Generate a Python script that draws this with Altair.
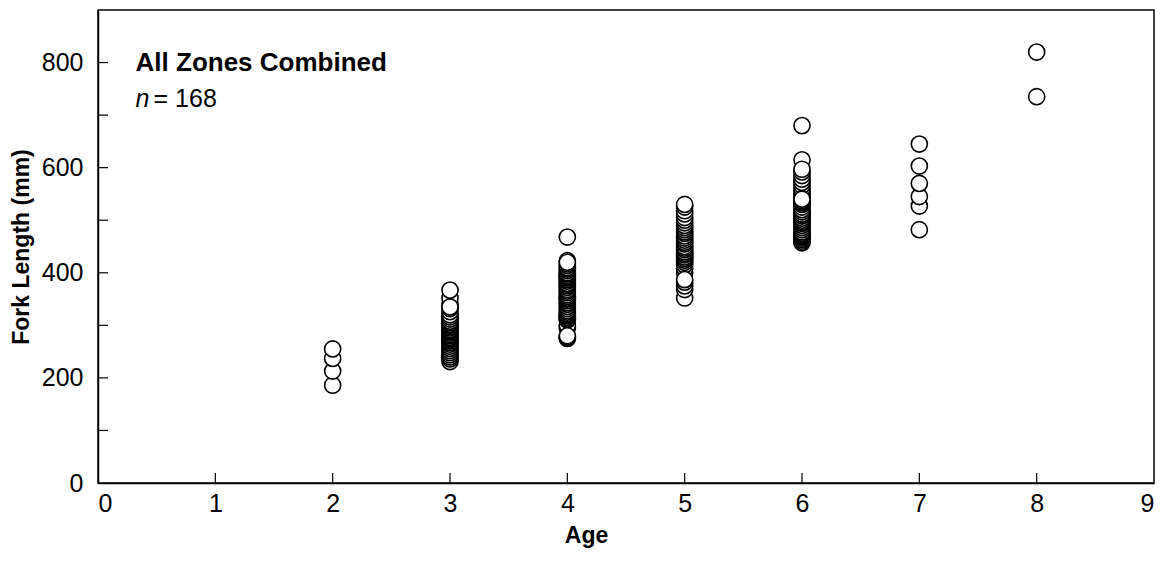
import altair as alt
import pandas as pd

age2 = [186, 213, 237, 255]
age3 = [231, 236, 240, 244, 248, 252, 256, 260, 264, 267, 270, 272, 275, 277, 280,
        282, 285, 288, 290, 292, 295, 297, 300, 302, 305, 308, 312, 316, 320, 326,
        332, 340, 352, 367, 335]
age4 = [275, 276, 278, 295, 300, 310, 312, 315, 318, 320, 322, 325, 328, 332, 336,
        340, 343, 347, 350, 352, 355, 358, 362, 365, 368, 372, 375, 378, 380, 384,
        387, 390, 392, 395, 398, 400, 404, 407, 410, 414, 417, 423, 468, 280, 420]
age5 = [352, 368, 375, 382, 400, 408, 415, 420, 424, 427, 430, 434, 437, 440, 444,
        447, 450, 455, 458, 462, 466, 470, 475, 478, 482, 486, 490, 495, 500, 505,
        512, 518, 525, 530, 387]
age6 = [457, 460, 463, 466, 469, 470, 472, 475, 478, 482, 486, 490, 494, 495, 497,
        500, 504, 508, 510, 512, 516, 520, 525, 530, 533, 535, 537, 541, 546, 550,
        555, 560, 566, 572, 578, 585, 592, 615, 680, 540, 597]
age7 = [482, 527, 545, 570, 603, 645]
age8 = [735, 820]

groups = {2: age2, 3: age3, 4: age4, 5: age5, 6: age6, 7: age7, 8: age8}
x_labels = [0, 1, 2, 3, 4, 5, 6, 7, 8, 9]
y_labels = [0, 200, 400, 600, 800]
x_inner_ticks = [1, 2, 3, 4, 5, 6, 7, 8]
y_inner_ticks = [100, 200, 300, 400, 500, 600, 700, 800]

rows = []
for a, vals in groups.items():
    for v in vals:
        rows.append({"Age": a, "FL": v})
df = pd.DataFrame(rows)

FONT = "Liberation Sans"
W, H = 1056, 473
TICK = 10

xscale = alt.Scale(domain=[0, 9], nice=False, zero=False)
yscale = alt.Scale(domain=[0, 900], nice=False, zero=False)

xaxis = alt.Axis(values=x_labels, title="Age", ticks=False, grid=False,
                 labelPadding=8, titlePadding=8, format="d",
                 titleX=488, titleAlign="center")
yaxis = alt.Axis(values=y_labels, title="Fork Length (mm)", ticks=False, grid=False,
                 labelPadding=15, titlePadding=8, format="d")

points = alt.Chart(df).mark_circle(
    fill="white", stroke="black", strokeWidth=1.6, size=260, opacity=1
).encode(
    x=alt.X("Age:Q", scale=xscale, axis=xaxis),
    y=alt.Y("FL:Q", scale=yscale, axis=yaxis),
)

xt = alt.Chart(pd.DataFrame({"Age": x_inner_ticks})).mark_rule(
    color="black", strokeWidth=1.2
).encode(
    x=alt.X("Age:Q", scale=xscale, axis=xaxis),
    y=alt.value(H), y2=alt.value(H - TICK),
)

yt = alt.Chart(pd.DataFrame({"FL": y_inner_ticks})).mark_rule(
    color="black", strokeWidth=1.2
).encode(
    y=alt.Y("FL:Q", scale=yscale, axis=yaxis),
    x=alt.value(0), x2=alt.value(TICK),
)

title_txt = alt.Chart(pd.DataFrame({"t": ["All Zones Combined"]})).mark_text(
    align="left", baseline="middle", font=FONT, fontSize=26, fontWeight="bold",
    color="black"
).encode(x=alt.datum(0.32), y=alt.datum(800), text="t:N")

n_txt = alt.Chart(pd.DataFrame({"t": ["n"]})).mark_text(
    align="left", baseline="middle", font=FONT, fontSize=25, fontStyle="italic",
    color="black", dy=36
).encode(x=alt.datum(0.32), y=alt.datum(800), text="t:N")

eq_txt = alt.Chart(pd.DataFrame({"t": ["= 168"]})).mark_text(
    align="left", baseline="middle", font=FONT, fontSize=25, color="black",
    dy=36, dx=18
).encode(x=alt.datum(0.32), y=alt.datum(800), text="t:N")

chart = alt.layer(points, xt, yt, title_txt, n_txt, eq_txt).properties(
    width=W, height=H,
    autosize=alt.AutoSizeParams(type="none"),
    padding={"left": 90, "top": 2, "right": 10, "bottom": 90},
).configure_view(
    stroke="black", strokeWidth=1.5
).configure_axis(
    domainColor="black", domainWidth=1.5,
    labelFont=FONT, labelFontSize=25, labelColor="black",
    titleFont=FONT, titleFontSize=23, titleFontWeight="bold", titleColor="black",
)

chart.save("out.html", embed_options={"renderer": "svg", "actions": False})
